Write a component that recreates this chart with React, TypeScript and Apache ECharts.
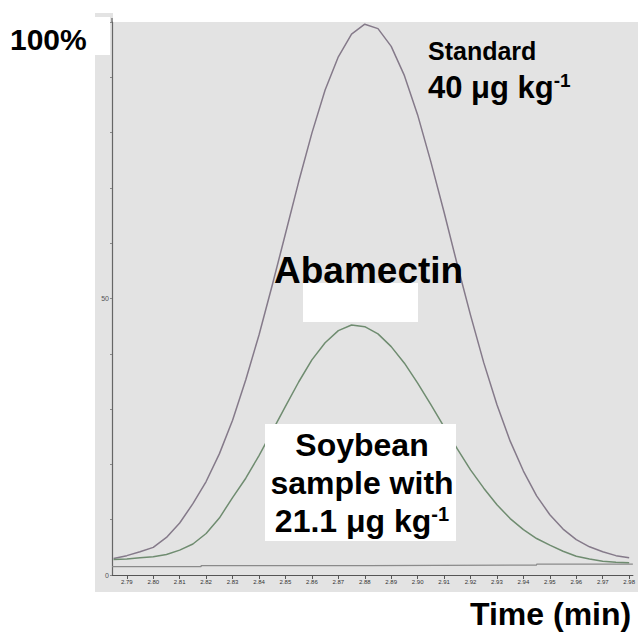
import React, { useEffect, useRef } from "react";
import * as echarts from "echarts";

const tickLabels = [2.79, 2.8, 2.81, 2.82, 2.83, 2.84, 2.85, 2.86, 2.87, 2.88, 2.89, 2.9, 2.91, 2.92, 2.93, 2.94, 2.95, 2.96, 2.97, 2.98];

const times = [2.785, 2.79, 2.795, 2.8, 2.805, 2.81, 2.815, 2.82, 2.825, 2.83, 2.835, 2.84, 2.845, 2.85, 2.855, 2.86, 2.865, 2.87, 2.875, 2.88, 2.885, 2.89, 2.895, 2.9, 2.905, 2.91, 2.915, 2.92, 2.925, 2.93, 2.935, 2.94, 2.945, 2.95, 2.955, 2.96, 2.965, 2.97, 2.975, 2.98];

const standardValues = [3.0, 3.5, 4.2, 5.0, 6.8, 9.4, 12.9, 16.9, 21.9, 28.0, 35.3, 43.4, 52.4, 61.7, 71.1, 79.9, 87.7, 93.7, 97.8, 99.6, 98.8, 95.6, 90.3, 83.2, 74.7, 65.6, 56.1, 47.0, 38.4, 30.8, 24.2, 18.8, 14.3, 10.9, 8.3, 6.4, 5.1, 4.2, 3.5, 3.1];

const sampleValues = [2.8, 2.9, 3.1, 3.3, 3.7, 4.5, 5.6, 7.5, 10.3, 14.0, 17.5, 21.6, 26.0, 30.5, 34.9, 38.9, 42.0, 44.2, 45.2, 44.9, 43.6, 41.3, 38.3, 34.7, 30.8, 26.8, 22.8, 19.0, 15.7, 12.7, 10.2, 8.2, 6.6, 5.4, 4.3, 3.4, 2.9, 2.5, 2.3, 2.2];

const baselineTimes = [2.7844, 2.8181, 2.8181, 2.881, 2.881, 2.945, 2.945, 2.9814];
const baselineValues = [1.5, 1.5, 1.7, 1.7, 1.8, 1.8, 1.95, 1.95];

const FONT = '"Liberation Sans", Arial, sans-serif';

export default function App() {
  const ref = useRef<HTMLDivElement>(null);
  useEffect(() => {
    if (!ref.current) return;
    const chart = echarts.init(ref.current, null, { renderer: "svg" });
    const txt = (text: string, x: number, y: number, size: number, align = "left", rich?: any) => ({
      type: "text",
      x,
      y,
      z: 20,
      style: {
        text,
        fill: "#000",
        font: `bold ${size}px ${FONT}`,
        fontFamily: FONT,
        fontWeight: "bold",
        fontSize: size,
        align,
        verticalAlign: "middle",
        rich,
      },
    });
    const supRich = (size: number) => ({
      a: { fontSize: size, fontWeight: "bold", fontFamily: FONT, color: "#000" },
      s: { fontSize: Math.round(size * 0.62), fontWeight: "bold", fontFamily: FONT, color: "#000", verticalAlign: "top", padding: [0, 0, size * 0.45, 0] },
    });
    chart.setOption({
      animation: false,
      backgroundColor: "#ffffff",
      grid: { left: 112, right: 0, top: 22, bottom: 59 },
      xAxis: {
        type: "value",
        min: 2.7844,
        max: 2.9814,
        axisLine: { show: true, lineStyle: { color: "#555", width: 1.2 } },
        axisTick: { show: true, customValues: tickLabels, length: 4, lineStyle: { color: "#555" } },
        axisLabel: {
          show: true,
          customValues: tickLabels,
          fontSize: 6,
          color: "#333",
          margin: 4,
          formatter: (v: number) => v.toFixed(2),
        },
        splitLine: { show: false },
      },
      yAxis: {
        type: "value",
        min: 0,
        max: 100,
        interval: 10,
        axisLine: { show: true, lineStyle: { color: "#666", width: 1.2 } },
        axisTick: { show: true, length: 2, lineStyle: { color: "#888" } },
        axisLabel: {
          show: true,
          fontSize: 7,
          color: "#555",
          margin: 3,
          formatter: (v: number) => (v === 0 ? "0" : v === 50 ? "50" : ""),
        },
        splitLine: { show: false },
      },
      graphic: [
        { type: "rect", z: -1, shape: { x: 95, y: 22, width: 543, height: 570 }, style: { fill: "#e3e3e3" } },
        { type: "rect", z: -1, shape: { x: 95, y: 13, width: 18, height: 9 }, style: { fill: "#e3e3e3" } },
        { type: "line", z: 5, shape: { x1: 112, y1: 18, x2: 112, y2: 22 }, style: { stroke: "#666", lineWidth: 1.2 } },
        { type: "rect", z: 10, shape: { x: 0, y: 17, width: 110, height: 38 }, style: { fill: "#ffffff" } },
        { type: "rect", z: 10, shape: { x: 303, y: 283, width: 115, height: 39 }, style: { fill: "#ffffff" } },
        { type: "rect", z: 10, shape: { x: 265, y: 424, width: 191, height: 117 }, style: { fill: "#ffffff" } },
        txt("100%", 10, 39, 30),
        txt("Standard", 428, 51, 25),
        txt("{a|40 μg kg}{s|-1}", 428, 87, 31, "left", supRich(31)),
        txt("Abamectin", 274, 270, 37),
        txt("Soybean", 362, 445, 32, "center"),
        txt("sample with", 362, 483, 32, "center"),
        txt("{a|21.1 μg kg}{s|-1}", 362, 521, 32, "center", supRich(32)),
        txt("Time (min)", 470, 614, 32),
      ],
      series: [
        {
          name: "Standard 40 μg kg-1",
          type: "line",
          data: times.map((t, i) => [t, standardValues[i]]),
          showSymbol: false,
          lineStyle: { color: "#857a8a", width: 1.5 },
          z: 3,
        },
        {
          name: "Soybean sample 21.1 μg kg-1",
          type: "line",
          data: times.map((t, i) => [t, sampleValues[i]]),
          showSymbol: false,
          lineStyle: { color: "#6f8c70", width: 1.5 },
          z: 4,
        },
        {
          name: "Baseline",
          type: "line",
          data: baselineTimes.map((t, i) => [t, baselineValues[i]]),
          showSymbol: false,
          lineStyle: { color: "#8a8a8a", width: 1.2 },
          z: 2,
        },
      ],
    });
    return () => chart.dispose();
  }, []);
  return <div ref={ref} style={{ position: "fixed", left: 0, top: 0, width: 638, height: 634 }} />;
}
